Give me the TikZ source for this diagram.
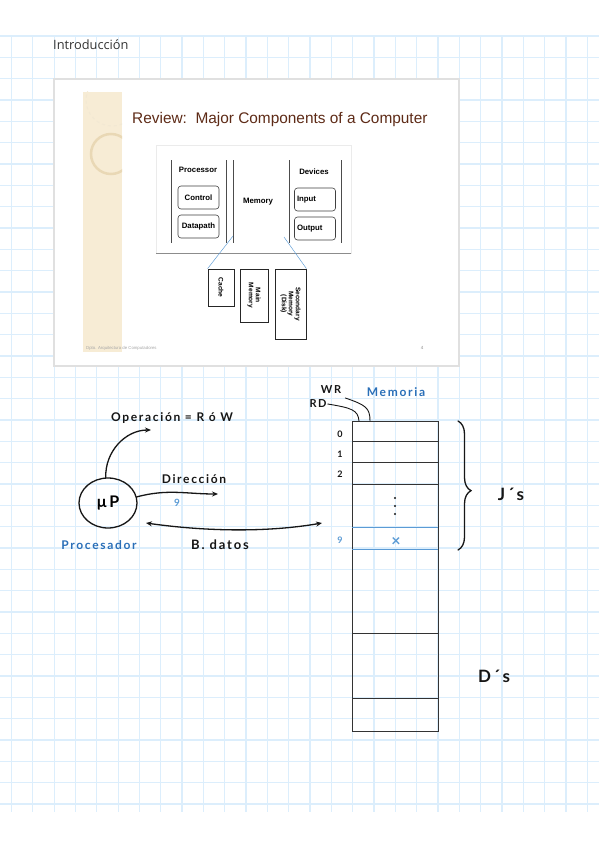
\documentclass[tikz,border=0pt]{standalone}
\usepackage{fontspec}
\setmainfont{Liberation Sans}
\newfontfamily\notefont{Open Sans}
\newfontfamily\hand[LetterSpace=14]{Lato Bold}
\usepackage{tikz}
\usetikzlibrary{positioning,arrows.meta,shapes.geometric,calc,decorations.pathreplacing}
\definecolor{gridblue}{HTML}{DCEEFC}
\definecolor{ink}{HTML}{161616}
\definecolor{penblue}{HTML}{2A6FB8}
\definecolor{lightpen}{HTML}{5B9BD5}
\definecolor{slidebrown}{HTML}{5E2B17}
\definecolor{beige}{HTML}{F7ECD5}
\definecolor{beigering}{HTML}{E9D8B5}
\tikzset{
  gridline/.style ={draw=gridblue, line width=1.3pt},
  cbox/.style     ={rounded corners=3pt, draw=black!75, line width=0.6pt, fill=white,
                    font=\bfseries\fontsize{7.8}{9}\selectfont, minimum width=41pt, minimum height=23pt, inner sep=1pt},
  clabel/.style   ={font=\bfseries\fontsize{7.8}{9}\selectfont, inner sep=1pt},
  colside/.style  ={draw=black!70, line width=1pt},
  vbox/.style     ={draw=black!85, line width=0.8pt, fill=white, rotate=-90, align=center,
                    font=\bfseries\fontsize{6.6}{7}\selectfont, inner sep=1pt},
  zoomline/.style ={draw=lightpen, line width=0.45pt},
  hand/.style     ={font=\hand\fontsize{12}{13}\selectfont, text=ink, inner sep=1pt},
  bluehand/.style ={hand, text=penblue},
  pen/.style      ={draw=ink, line width=1.3pt, line cap=round},
  penarr/.style   ={pen, -{Stealth[length=6pt,width=5pt]}},
  bothpen/.style  ={pen, {Stealth[length=6pt,width=5pt]}-{Stealth[length=6pt,width=5pt]}},
}

\begin{document}
\begin{tikzpicture}[x=1pt,y=-1pt]
\useasboundingbox (0,0) rectangle (599,848);
\fill[white] (0,0) rectangle (599,848);
% squared paper
\foreach \k in {0,...,27} { \draw[gridline] ({11.5+21.33*\k},36) -- ({11.5+21.33*\k},812); }
\foreach \k in {0,...,36} { \draw[gridline] (0,{36+21.33*\k}) -- (599,{36+21.33*\k}); }
\node[font=\notefont\fontsize{12.8}{14}\selectfont, text=black!80, anchor=west, inner sep=0pt] (page) at (53,45) {Introducción};

% pasted slide
\filldraw[fill=white, draw=black!12, line width=1.2pt] (54,79) rectangle (459,366);
\fill[beige] (83,92) rectangle (122,352);
\begin{scope}
  \clip (83,92) rectangle (122,352);
  \draw[beigering, line width=2.5pt] (111,154) circle (20);
  \draw[beigering!60, line width=1pt, dashed] (112,100) circle (26);
\end{scope}
\node[text=slidebrown, font=\fontsize{15.4}{17}\selectfont, anchor=west, inner sep=0pt] (title) at (132,120) {Review:\ \ Major Components of a Computer};
% components panel
\filldraw[fill=white, draw=black!8] (156,145) rectangle (351,253);
\draw[black!45, line width=0.8pt] (156,253) -- (351,253);
\draw[colside] (171,160) -- (171,243) (226,160) -- (226,243);
\draw[colside] (233,160) -- (233,243);
\draw[colside] (289,160) -- (289,243) (341,160) -- (341,243);
\node[clabel] (proc) at (198,170) {Processor};
\node[cbox] (ctrl) at (198.5,197.5) {Control};
\node[cbox] (dpath) at (198.5,226.5) {Datapath};
\node[clabel] (memlbl) at (258,202) {Memory};
\node[clabel] (dev) at (314,172) {Devices};
\node[cbox, text width=36pt] (inp) at (315,199.5) {Input};
\node[cbox, text width=36pt] (outp) at (315,228.5) {Output};
\coordinate (memlow) at (233,236);
\coordinate (memlowr) at (284,237);
% memory hierarchy
\node[vbox, minimum width=37pt, minimum height=26pt] (cache) at (221,287.5) {Cache};
\node[vbox, minimum width=53pt, minimum height=28pt] (mainm) at (254,295.5) {Main\\Memory};
\node[vbox, minimum width=70pt, minimum height=31pt] (secm) at (290.5,304) {Secondary\\Memory\\(Disk)};
\draw[zoomline] (memlow) -- (cache.south west);
\draw[zoomline] (memlowr) -- (secm.north west);
\node[text=black!35, font=\fontsize{4.3}{5}\selectfont, anchor=west, inner sep=0pt] (foot) at (86,348) {Dpto. Arquitectura de Computadores};
\node[text=black!45, font=\fontsize{4.5}{5}\selectfont, inner sep=0pt] (pnum) at (422,348) {4};

% processor
\node[ellipse, pen, minimum width=58pt, minimum height=50pt, font=\hand\fontsize{16}{17}\selectfont] (mup) at (108,503) {µP};
\node[bluehand] (proclbl) at (99,545) {Procesador};
\coordinate (opend) at (151,430);
\coordinate (dirend) at (218,494);
\coordinate (bstart) at (146,523);
\coordinate (bend) at (322,523);
\draw[penarr] (mup.95) to[out=92,in=180] (opend);
\node[hand] (oplbl) at (172,418) {Operación = R ó W};
\draw[penarr] (mup.12) to[out=15,in=180] (dirend);
\node[hand] (dirlbl) at (194,479) {Dirección};
\node[hand, text=lightpen, font=\hand\fontsize{10}{11}\selectfont] (dirbits) at (177,503) {9};
\draw[bothpen] (bstart) .. controls (210,532) and (270,532) .. (bend);
\node[hand, font=\hand\fontsize{13}{14}\selectfont] (datlbl) at (220,545) {B. datos};

% memory column
\draw[pen, line width=0.9pt, draw=black!80] (352,421) rectangle (438,731);
\foreach \y in {441,462,484,633,698} { \draw[black!80, line width=0.9pt] (352,\y) -- (438,\y); }
\foreach \y in {527,549} { \draw[lightpen, line width=0.9pt] (352,\y) -- (438,\y); }
\node[bluehand, font=\hand\fontsize{12}{13}\selectfont] (memtitle) at (396,392) {Memoria};
\node[hand, font=\hand\fontsize{11}{12}\selectfont] (wr) at (331,390) {WR};
\node[hand, font=\hand\fontsize{11}{12}\selectfont] (rd) at (318,404) {RD};
\coordinate (rdpin) at (359,421);
\coordinate (wrpin) at (370,421);
\draw[pen, line width=0.9pt] (rd.east) .. controls (352,408) and (358,410) .. (rdpin);
\draw[pen, line width=0.9pt] (wr.east) ++(3,8) .. controls (366,405) and (370,408) .. (wrpin);
\node[hand, font=\hand\fontsize{9}{10}\selectfont] (a0) at (340,434) {0};
\node[hand, font=\hand\fontsize{9}{10}\selectfont] (a1) at (340,454) {1};
\node[hand, font=\hand\fontsize{9}{10}\selectfont] (a2) at (340,474) {2};
\node[hand, text=lightpen, font=\hand\fontsize{9}{10}\selectfont] (a9) at (340,540) {9};
\foreach \y in {498,506,514} { \fill[ink] (395,\y) circle (1.2); }
\node[text=lightpen, font=\hand\fontsize{16}{17}\selectfont] (cross) at (396,542) {×};
\draw[pen, decorate, decoration={brace, amplitude=13pt, aspect=0.54}] (458,421) -- (458,550);
\node[hand, font=\hand\fontsize{17}{18}\selectfont] (js) at (511,494) {J´s};
\node[hand, font=\hand\fontsize{17}{18}\selectfont] (ds) at (494,676) {D´s};
\end{tikzpicture}
\end{document}
